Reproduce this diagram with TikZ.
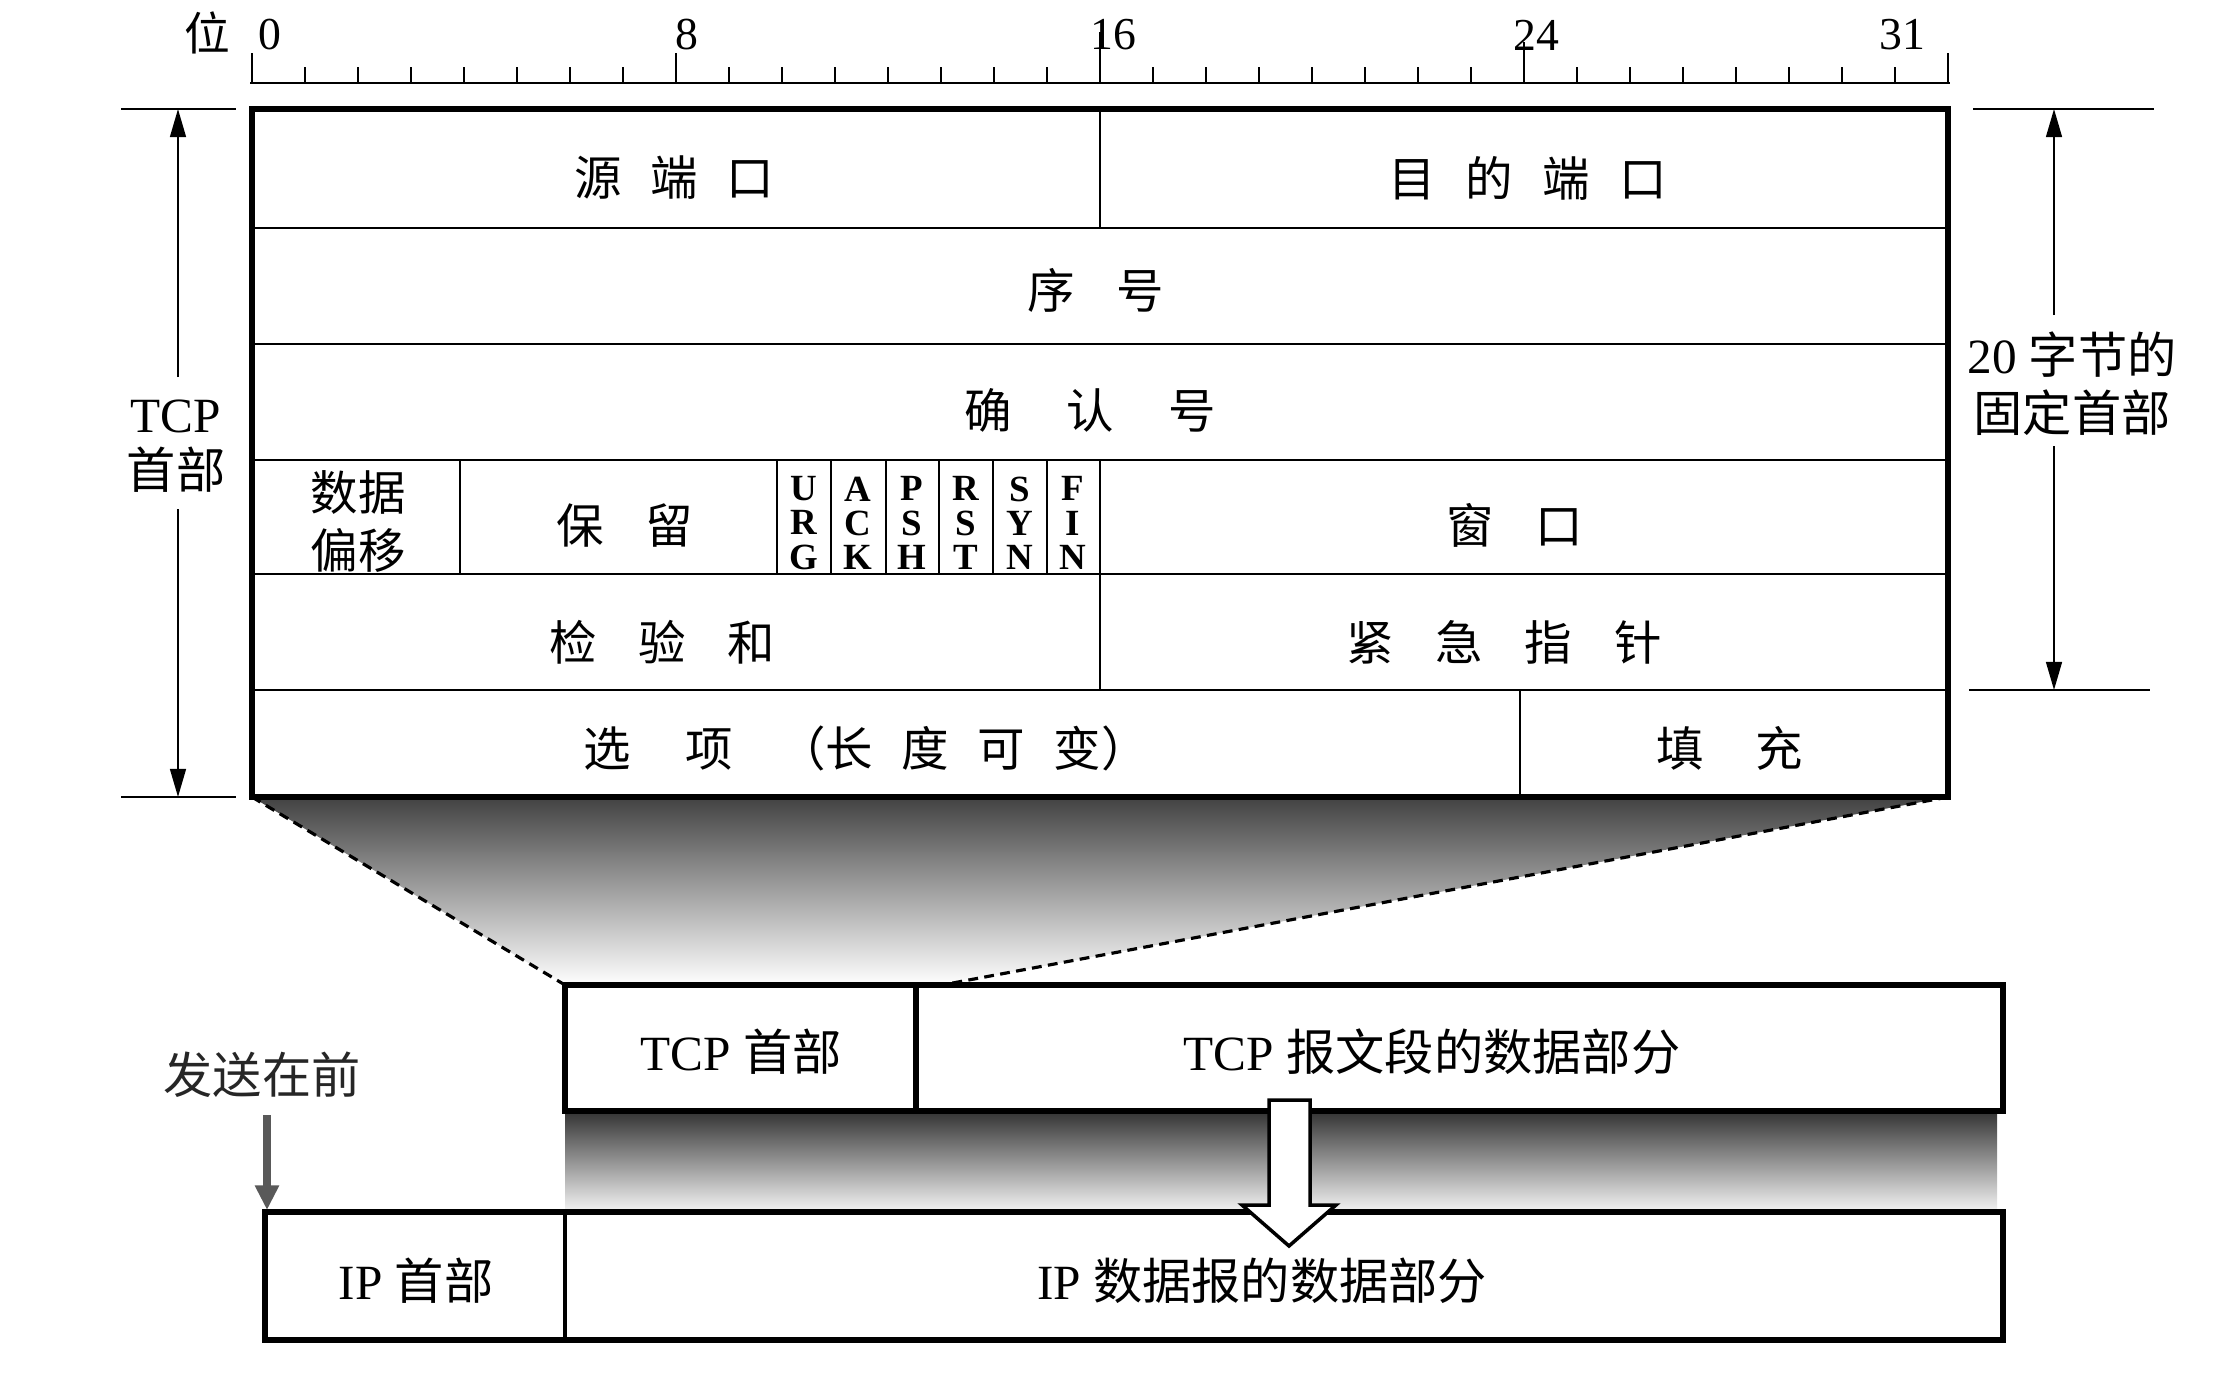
\documentclass[tikz,border=0pt]{standalone}
\usepackage{fontspec}
\setmainfont{Liberation Serif}
\newfontfamily\cjkf{Noto Sans CJK SC}
\usetikzlibrary{arrows.meta}
\newcommand\zhtab{\cjkf\fontsize{13.5}{16}\selectfont}
\newcommand\zhbig{\fontsize{14}{16}\selectfont}
\tikzset{
  outerbox/.style={line width=1.6pt},
  innerline/.style={line width=0.75pt},
  segbox/.style={line width=1.6pt},
  thinline/.style={line width=0.8pt},
  tickline/.style={line width=0.6pt},
  cell/.style={inner sep=0pt, font=\zhtab},
  numlbl/.style={inner sep=0pt, font=\fontsize{13}{15}\selectfont},
  flag/.style={inner sep=0pt, align=center, font=\bfseries\fontsize{10.5}{9.7}\selectfont},
  side/.style={inner sep=0pt, align=center, font=\zhbig},
  dimarrow/.style={line width=0.6pt, -{Triangle[length=8pt,width=4.5pt]}},
  dashline/.style={line width=0.9pt, dash pattern=on 2.8pt off 1.8pt},
}
\begin{document}
\begin{tikzpicture}[x=0.01cm,y=-0.01cm]
\useasboundingbox (0,0) rectangle (2227,1397);

% key corners
\coordinate (mbl) at (252,797);
\coordinate (mbr) at (1948,797);
\coordinate (tcpl) at (565,985);
\coordinate (tcpm) at (942,985);

% funnel shading
\shade[top color=black!74, middle color=black!42, bottom color=white]
  (mbl) -- (mbr) -- (tcpm) -- (tcpl) -- cycle;
\draw[dashline] (mbl) -- (tcpl);
\draw[dashline] (mbr) -- (tcpm);

% shading between TCP segment and IP datagram
\shade[top color=black!80, middle color=black!40, bottom color=black!4]
  (565,1111) rectangle (1997,1212);

% ruler
\draw[line width=0.85pt] (250,83) -- (1950,83);
\foreach \i in {1,...,7,9,10,...,15,17,18,...,23,25,26,...,31}
  \draw[tickline] ({252+53*\i},83) -- ({252+53*\i},67);
\draw[tickline] (252,83) -- (252,53);
\draw[tickline] (676,83) -- (676,53);
\draw[tickline] (1100,83) -- (1100,32);
\draw[tickline] (1524,83) -- (1524,42);
\draw[tickline] (1948,83) -- (1948,53);
\node[inner sep=0pt, font=\cjkf\fontsize{13}{15}\selectfont] (wei) at (207,33) {位};
\node[numlbl] (n0) at (270,35) {0};
\node[numlbl] (n8) at (687,35) {8};
\node[numlbl] (n16) at (1113,35) {16};
\node[numlbl] (n24) at (1536,35) {24};
\node[numlbl] (n31) at (1902,35) {31};

% main header table
\foreach \yy in {228,344,460,574,690}
  \draw[innerline] (252,\yy) -- (1948,\yy);
\draw[innerline] (1100,109) -- (1100,228);
\foreach \xx in {460,777,831,886,939,993,1047,1100}
  \draw[innerline] (\xx,460) -- (\xx,574);
\draw[innerline] (1100,574) -- (1100,690);
\draw[innerline] (1520,690) -- (1520,797);
\draw[outerbox] (252,109) rectangle (1948,797);

\node[cell] (srcport) at (674,178) {源\hspace{0.6em}端\hspace{0.6em}口};
\node[cell] (dstport) at (1528,178) {目\hspace{0.62em}的\hspace{0.62em}端\hspace{0.62em}口};
\node[cell] (seq) at (1096,290) {序\hspace{0.88em}号};
\node[cell] (ack) at (1090,410) {确\hspace{1.15em}认\hspace{1.15em}号};
\node[cell, align=center, font=\cjkf\fontsize{13.5}{16.5}\selectfont] (doff) at (358,522) {数据\\偏移};
\node[cell] (resv) at (625,525) {保\hspace{0.88em}留};
\node[flag] (furg) at (804,523) {U\\R\\G};
\node[flag] (fack) at (858,523) {A\\C\\K};
\node[flag] (fpsh) at (912,523) {P\\S\\H};
\node[flag] (frst) at (966,523) {R\\S\\T};
\node[flag] (fsyn) at (1020,523) {S\\Y\\N};
\node[flag] (ffin) at (1073,523) {F\\I\\N};
\node[cell] (win) at (1515,525) {窗\hspace{0.88em}口};
\node[cell] (csum) at (662,642) {检\hspace{0.88em}验\hspace{0.88em}和};
\node[cell] (urgp) at (1504,642) {紧\hspace{0.88em}急\hspace{0.88em}指\hspace{0.88em}针};
\node[cell] (opts) at (866,748) {选\hspace{1.15em}项\hspace{0.95em}（长\hspace{0.6em}度\hspace{0.6em}可\hspace{0.6em}变）};
\node[cell] (pad) at (1730,748) {填\hspace{1.08em}充};

% left dimension (TCP header)
\node[side, font=\fontsize{14}{16}\selectfont] (tcphdr) at (176,446) {TCP\\{\cjkf 首部}};
\coordinate (lt) at (178,109);
\coordinate (lb) at (178,797);
\coordinate (lt0) at (178,377);
\coordinate (lb0) at (178,509);
\draw[thinline] (121,109) -- (236,109);
\draw[thinline] (121,797) -- (236,797);
\draw[dimarrow] (lt0) -- (lt);
\draw[dimarrow] (lb0) -- (lb);

% right dimension (20 bytes fixed header)
\node[side, font=\fontsize{14}{16.5}\selectfont] (fixed) at (2072,384) {20 {\cjkf 字节的}\\{\cjkf 固定首部}};
\coordinate (rt) at (2054,109);
\coordinate (rb) at (2054,690);
\coordinate (rt0) at (2054,315);
\coordinate (rb0) at (2054,446);
\draw[thinline] (1973,109) -- (2154,109);
\draw[thinline] (1969,690) -- (2150,690);
\draw[dimarrow] (rt0) -- (rt);
\draw[dimarrow] (rb0) -- (rb);

% TCP segment
\draw[segbox, fill=white] (565,985) rectangle (2003,1111);
\draw[segbox] (916,985) -- (916,1111);
\node[side] (tcpseghdr) at (741,1052) {TCP {\cjkf 首部}};
\node[side] (tcpsegdata) at (1432,1052) {TCP {\cjkf 报文段的数据部分}};

% IP datagram
\draw[segbox, fill=white] (265,1212) rectangle (2003,1340);
\draw[line width=0.9pt] (565,1212) -- (565,1340);
\node[side] (iphdr) at (416,1281) {IP {\cjkf 首部}};
\node[side] (ipdata) at (1262,1281) {IP {\cjkf 数据报的数据部分}};

% hollow arrow from TCP segment into IP datagram
\draw[line width=1pt, fill=white] (1269,1100) -- (1310,1100) -- (1310,1205) -- (1336,1205)
  -- (1289,1246) -- (1242,1205) -- (1269,1205) -- cycle;

% sent first
\node[side, text=black!85] (sentfirst) at (262,1075) {\cjkf 发送在前};
\coordinate (sfa) at (267,1115);
\coordinate (sfb) at (267,1210);
\draw[line width=2.3pt, black!65, -{Triangle[length=7pt,width=6.5pt]}] (sfa) -- (sfb);
\end{tikzpicture}
\end{document}
